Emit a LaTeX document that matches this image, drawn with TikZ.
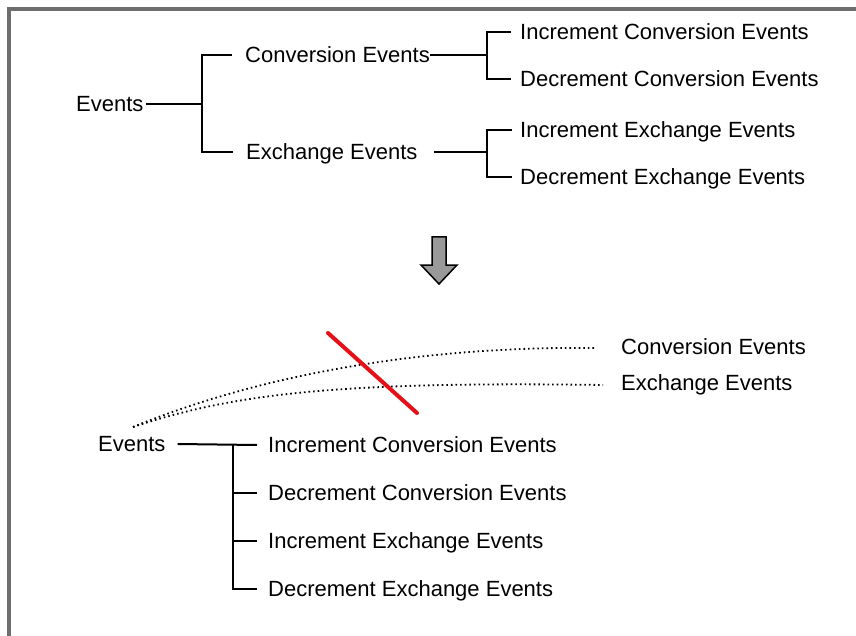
\documentclass[tikz,border=0pt]{standalone}
\usepackage{fontspec}
\setmainfont{Liberation Sans}
\begin{document}
\begin{tikzpicture}[x=1pt,y=-1pt,
  lbl/.style={anchor=west,inner sep=0pt,text height=15.8pt,text depth=0pt,
    font=\fontsize{22}{26}\selectfont},
  tree/.style={draw=black,line width=2pt},
  hint/.style={draw=black,line width=1.8pt,dash pattern=on 1.6pt off 3pt},
  cut/.style={draw={rgb,255:red,228;green,18;blue,24},line width=4pt,line cap=round},
  frame/.style={draw={rgb,255:red,110;green,110;blue,110},line width=4pt}]
\useasboundingbox (0,0) rectangle (856,636);

% outer frame (top and left edges)
\draw[frame] (9,640) -- (9,9.5) -- (860,9.5);

% --- hierarchy with two levels ---
\node[lbl] (ev1) at (76,104) {Events};
\node[lbl] (cv)  at (245,55)  {Conversion Events};
\node[lbl] (ex)  at (246,152) {Exchange Events};
\node[lbl] (ic)  at (520,32)  {Increment Conversion Events};
\node[lbl] (dc)  at (520,79)  {Decrement Conversion Events};
\node[lbl] (ie)  at (520,130) {Increment Exchange Events};
\node[lbl] (de)  at (520,177) {Decrement Exchange Events};

\coordinate (j1) at (202,104);
\coordinate (j2) at (487,55);
\coordinate (j3) at (487,152);

\draw[tree] ([xshift=2pt]ev1.east) -- (j1);
\draw[tree] ([xshift=-13pt]cv.west) -| (j1) |- ([xshift=-13pt]ex.west);
\draw[tree] (cv.east) -- (j2);
\draw[tree] ([xshift=-9pt]ic.west) -| (j2) |- ([xshift=-9pt]dc.west);
\draw[tree] ([xshift=16pt]ex.east) -- (j3);
\draw[tree] ([xshift=-8pt]ie.west) -| (j3) |- ([xshift=-8pt]de.west);

% --- transformation arrow ---
\draw[line width=1.5pt,fill={rgb,255:red,153;green,153;blue,153},line join=miter]
  (432,237) -- (446,237) -- (446,265) -- (457,265) -- (439,284)
  -- (421,265) -- (432,265) -- cycle;

% --- flattened hierarchy ---
\node[lbl] (ev2) at (98,444)  {Events};
\node[lbl] (b1)  at (268,445) {Increment Conversion Events};
\node[lbl] (b2)  at (268,493) {Decrement Conversion Events};
\node[lbl] (b3)  at (268,541) {Increment Exchange Events};
\node[lbl] (b4)  at (268,589) {Decrement Exchange Events};

\coordinate (j4) at (233,445);
\draw[tree] ([xshift=12pt]ev2.east) -- ([xshift=-11pt]b1.west);
\draw[tree] ([xshift=-11pt]b4.west) -| (j4);
\draw[tree] ([xshift=-11pt]b2.west) -- (j4 |- b2.west);
\draw[tree] ([xshift=-11pt]b3.west) -- (j4 |- b3.west);

% --- dropped intermediate level ---
\node[lbl] (cv2) at (621,347) {Conversion Events};
\node[lbl] (ex2) at (621,383) {Exchange Events};
\coordinate (s) at (133,427);

\draw[hint] (s) .. controls (260,375) and (420,346) .. ([xshift=-26pt,yshift=-1pt]cv2.west);
\draw[hint] (s) .. controls (230,395) and (330,381) .. ([xshift=-18pt,yshift=-2pt]ex2.west);

\draw[cut] (328,333) -- (417,413);
\end{tikzpicture}
\end{document}
